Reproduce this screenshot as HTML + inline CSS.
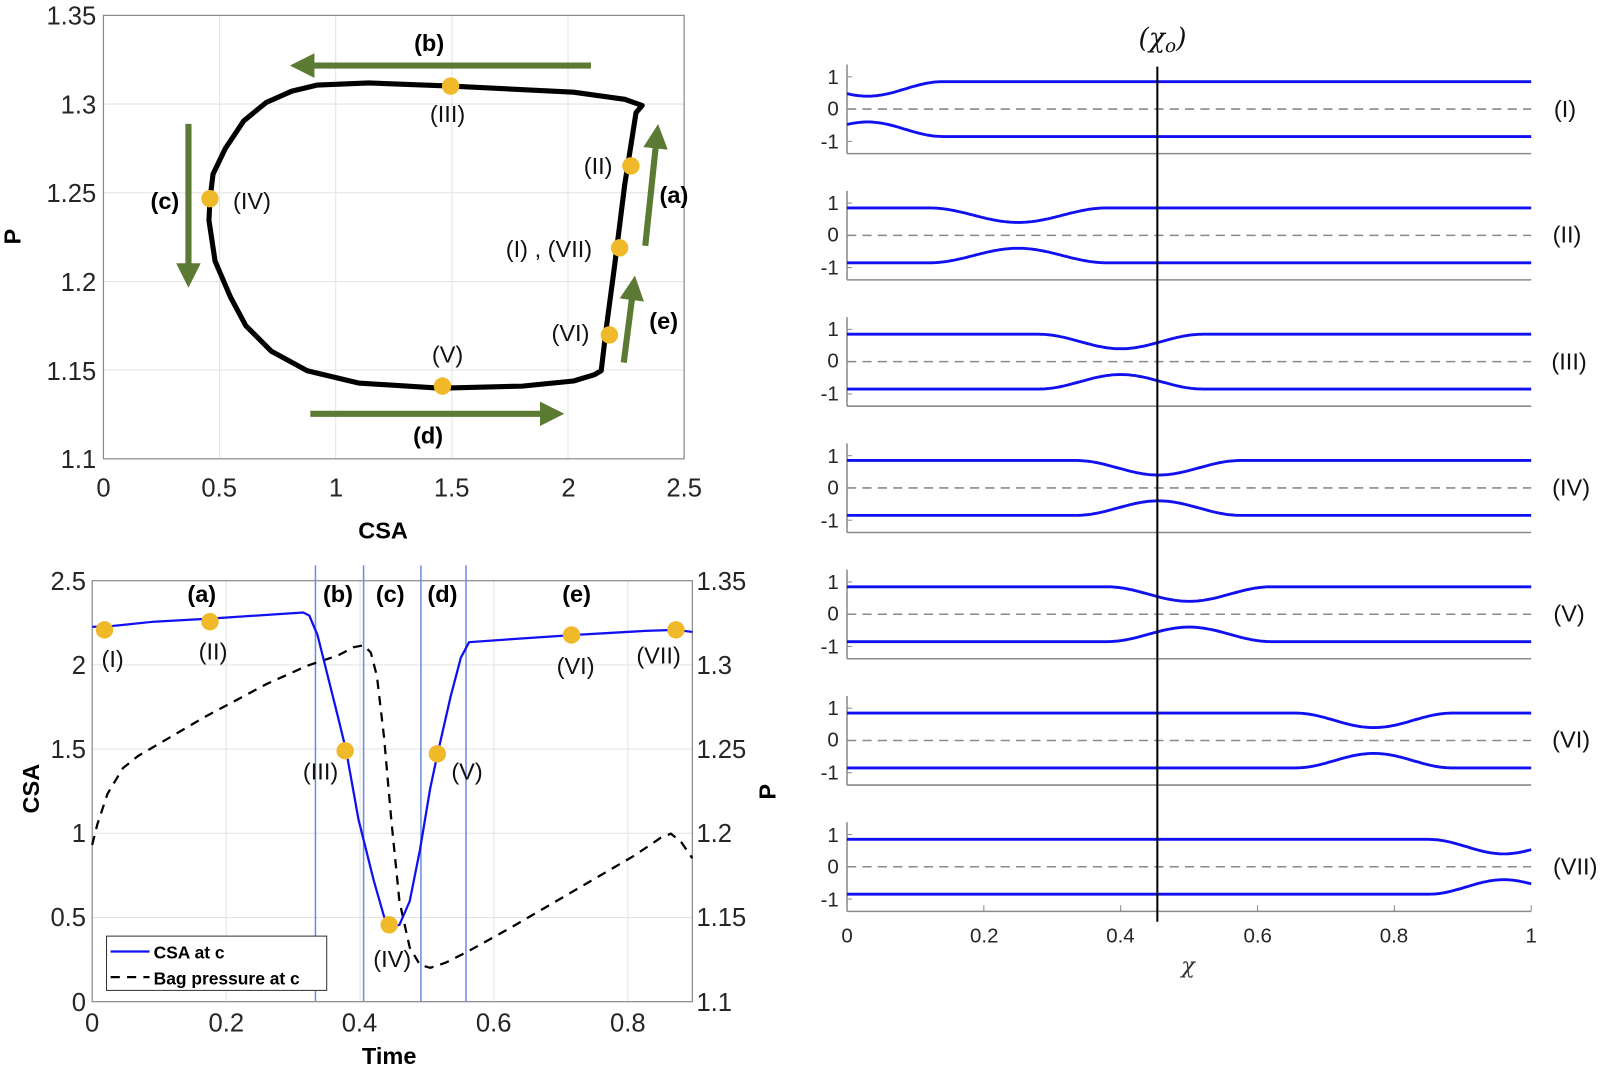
<!DOCTYPE html>
<html><head><meta charset="utf-8"><style>
html,body{margin:0;padding:0;background:#fff;}
svg{display:block;font-family:"Liberation Sans",sans-serif;}
.t{font-size:25px;fill:#262626;}
.s{font-size:20px;fill:#262626;}
.b{font-weight:bold;font-size:23px;fill:#000;}
.l{font-size:23px;fill:#111;}
</style></head><body>
<svg id="svg" width="1606" height="1068" viewBox="0 0 1606 1068" xmlns="http://www.w3.org/2000/svg">
<defs>
<marker id="ah" markerWidth="4" markerHeight="4" refX="1.5" refY="2" orient="auto" markerUnits="strokeWidth">
<path d="M0,0 L4,2 L0,4 z" fill="#5b7b35"/></marker>
</defs>
<g transform="scale(1.0242)">
<g id="tl">
<g stroke="#e3e3e3" stroke-width="1">
<line x1="214.4" y1="15" x2="214.4" y2="448"/><line x1="327.8" y1="15" x2="327.8" y2="448"/>
<line x1="441.2" y1="15" x2="441.2" y2="448"/><line x1="554.6" y1="15" x2="554.6" y2="448"/>
<line x1="101" y1="101.6" x2="668" y2="101.6"/><line x1="101" y1="188.2" x2="668" y2="188.2"/>
<line x1="101" y1="274.8" x2="668" y2="274.8"/><line x1="101" y1="361.4" x2="668" y2="361.4"/>
</g>
<rect x="101" y="15" width="567" height="433" fill="none" stroke="#8a8a8a" stroke-width="1.2"/>
<g class="t" text-anchor="end">
<text x="94" y="24">1.35</text><text x="94" y="111">1.3</text><text x="94" y="197">1.25</text>
<text x="94" y="284">1.2</text><text x="94" y="371">1.15</text><text x="94" y="457">1.1</text>
</g>
<g class="t" text-anchor="middle">
<text x="101" y="485">0</text><text x="214" y="485">0.5</text><text x="328" y="485">1</text>
<text x="441" y="485">1.5</text><text x="555" y="485">2</text><text x="668" y="485">2.5</text>
</g>
<text class="b" x="374" y="526" text-anchor="middle">CSA</text>
<text class="b" transform="translate(20,231) rotate(-90)" text-anchor="middle">P</text>
<path fill="none" stroke="#000" stroke-width="5" stroke-linejoin="round" d="M627,103 L610,97 L560,90 L440,84 L360,81 L310,83 L285,89 L260,100 L238,118 L220,145 L208,170 L205,195 L204,215 L210,255 L225,290 L240,318 L265,343 L300,362 L350,374 L430,379 L510,377 L560,372 L580,366 L587,362 L592,320 L600,260 L610,180 L621,110 Z"/>
<g stroke="#5b7b35" stroke-width="6" marker-end="url(#ah)">
<line x1="577" y1="64" x2="298" y2="64"/>
<line x1="184" y1="121" x2="184" y2="266"/>
<line x1="630" y1="240" x2="641" y2="136"/>
<line x1="609" y1="354" x2="618" y2="284"/>
<line x1="303" y1="404" x2="536" y2="404"/>
</g>
<g fill="#f0b92a">
<circle cx="440" cy="84" r="8.5"/><circle cx="616" cy="162" r="8.5"/><circle cx="605" cy="242" r="8.5"/>
<circle cx="595" cy="327" r="8.5"/><circle cx="432" cy="377" r="8.5"/><circle cx="205" cy="194" r="8.5"/>
</g>
<g class="b" text-anchor="middle">
<text x="419" y="50">(b)</text><text x="161" y="204">(c)</text><text x="658" y="198">(a)</text>
<text x="648" y="321">(e)</text><text x="418" y="433">(d)</text>
</g>
<g class="l" text-anchor="middle">
<text x="437" y="119">(III)</text><text x="584" y="170">(II)</text><text x="536" y="251">(I) , (VII)</text>
<text x="557" y="333">(VI)</text><text x="437" y="354">(V)</text><text x="246" y="204">(IV)</text>
</g>
</g>

<g id="bl">
<g stroke="#e3e3e3" stroke-width="1">
<line x1="220.8" y1="567" x2="220.8" y2="978"/><line x1="351.5" y1="567" x2="351.5" y2="978"/>
<line x1="482.2" y1="567" x2="482.2" y2="978"/><line x1="613" y1="567" x2="613" y2="978"/>
<line x1="90" y1="649.2" x2="676" y2="649.2"/><line x1="90" y1="731.4" x2="676" y2="731.4"/>
<line x1="90" y1="813.6" x2="676" y2="813.6"/><line x1="90" y1="895.8" x2="676" y2="895.8"/>
</g>
<rect x="90" y="567" width="586" height="411" fill="none" stroke="#8a8a8a" stroke-width="1.2"/>
<g stroke="#6b8de0" stroke-width="1.5">
<line x1="308" y1="552" x2="308" y2="978"/><line x1="355" y1="552" x2="355" y2="978"/>
<line x1="411" y1="552" x2="411" y2="978"/><line x1="455" y1="552" x2="455" y2="978"/>
</g>
<g class="t" text-anchor="end">
<text x="84" y="576">2.5</text><text x="84" y="658">2</text><text x="84" y="740">1.5</text>
<text x="84" y="822">1</text><text x="84" y="904">0.5</text><text x="84" y="987">0</text>
</g>
<g class="t" text-anchor="start">
<text x="680" y="576">1.35</text><text x="680" y="658">1.3</text><text x="680" y="740">1.25</text>
<text x="680" y="822">1.2</text><text x="680" y="904">1.15</text><text x="680" y="987">1.1</text>
</g>
<g class="t" text-anchor="middle">
<text x="90" y="1007">0</text><text x="221" y="1007">0.2</text><text x="351" y="1007">0.4</text>
<text x="482" y="1007">0.6</text><text x="613" y="1007">0.8</text>
</g>
<text class="b" x="380" y="1039" text-anchor="middle">Time</text>
<text class="b" transform="translate(38,770) rotate(-90)" text-anchor="middle">CSA</text>
<text class="b" transform="translate(757,773) rotate(-90)" text-anchor="middle">P</text>
<path fill="none" stroke="#000" stroke-width="2.2" stroke-dasharray="9,7" d="M90,825 L95,805 L105,775 L120,750 L135,738 L200,700 L260,668 L300,650 L330,640 L345,632 L355,630 L362,637 L368,660 L375,720 L382,800 L390,880 L400,925 L410,942 L420,945 L435,940 L455,930 L500,905 L560,870 L620,835 L645,818 L655,814 L665,822 L676,838"/>
<path fill="none" stroke="#1010f0" stroke-width="2.2" d="M90,612 L102,612 L150,607 L205,604 L296,598 L302,601 L310,620 L320,660 L330,700 L338,733 L350,800 L365,860 L375,895 L382,905 L390,903 L400,880 L410,830 L420,770 L427,737 L440,680 L450,642 L458,627 L500,624 L560,620 L630,616 L660,615 L676,617"/>
<g fill="#f0b92a">
<circle cx="102" cy="615" r="8.5"/><circle cx="205" cy="607" r="8.5"/><circle cx="337" cy="733" r="8.5"/>
<circle cx="380" cy="903" r="8.5"/><circle cx="427" cy="736" r="8.5"/><circle cx="558" cy="620" r="8.5"/><circle cx="660" cy="615" r="8.5"/>
</g>
<g class="b" text-anchor="middle">
<text x="197" y="588">(a)</text><text x="330" y="588">(b)</text><text x="381" y="588">(c)</text>
<text x="432" y="588">(d)</text><text x="563" y="588">(e)</text>
</g>
<g class="l" text-anchor="middle">
<text x="110" y="651">(I)</text><text x="208" y="644">(II)</text><text x="313" y="761">(III)</text>
<text x="383" y="944">(IV)</text><text x="456" y="761">(V)</text><text x="562" y="658">(VI)</text><text x="643" y="648">(VII)</text>
</g>
<rect x="104" y="914" width="215" height="53" fill="#fff" stroke="#333" stroke-width="1"/>
<line x1="108" y1="929" x2="146" y2="929" stroke="#1010f0" stroke-width="2.2"/>
<line x1="108" y1="954" x2="146" y2="954" stroke="#000" stroke-width="2.2" stroke-dasharray="9,7"/>
<text x="150" y="936" style="font-weight:bold;font-size:17px">CSA at c</text>
<text x="150" y="961" style="font-weight:bold;font-size:17px">Bag pressure at c</text>
</g>

<g id="rp"></g>
<text x="1135" y="46" text-anchor="middle" style="font-family:'DejaVu Serif',serif;font-size:26px;font-style:italic;fill:#111">(χ<tspan font-size="18" dy="5">o</tspan><tspan dy="-5">)</tspan></text>
<text x="1160" y="950" text-anchor="middle" style="font-family:'DejaVu Serif',serif;font-size:22px;font-style:italic;fill:#333">χ</text>
<g class="s" text-anchor="middle">
<text x="827" y="920">0</text><text x="961" y="920">0.2</text><text x="1094" y="920">0.4</text>
<text x="1228" y="920">0.6</text><text x="1361" y="920">0.8</text><text x="1495" y="920">1</text>
</g>
<g class="l" text-anchor="middle">
<text x="1528" y="114">(I)</text><text x="1530" y="237">(II)</text><text x="1532" y="361">(III)</text>
<text x="1534" y="484">(IV)</text><text x="1532" y="607">(V)</text><text x="1534" y="730">(VI)</text><text x="1538" y="854">(VII)</text>
</g>
<g class="s" text-anchor="end">
<text x="819" y="82">1</text><text x="819" y="113">0</text><text x="819" y="145">-1</text>
<text x="819" y="205">1</text><text x="819" y="236">0</text><text x="819" y="268">-1</text>
<text x="819" y="328">1</text><text x="819" y="359">0</text><text x="819" y="391">-1</text>
<text x="819" y="452">1</text><text x="819" y="483">0</text><text x="819" y="515">-1</text>
<text x="819" y="575">1</text><text x="819" y="606">0</text><text x="819" y="638">-1</text>
<text x="819" y="698">1</text><text x="819" y="729">0</text><text x="819" y="761">-1</text>
<text x="819" y="822">1</text><text x="819" y="853">0</text><text x="819" y="885">-1</text>
</g>
</g>
</svg>
<script>
(function(){
var g=document.getElementById('rp'),NS='http://www.w3.org/2000/svg';
function el(n,a){var e=document.createElementNS(NS,n);for(var k in a)e.setAttribute(k,a[k]);g.appendChild(e);return e;}
var P=[[0.03,0.11],[0.25,0.13],[0.40,0.12],[0.455,0.12],[0.50,0.12],[0.77,0.115],[0.96,0.11]];
var X0=827,X1=1495;
for(var k=0;k<7;k++){
 var y1=75+123.3*k,y0=y1+31.5,bot=y1+75,top=y1-12;
 el('line',{x1:X0,y1:y0,x2:X1,y2:y0,stroke:'#8a8a8a','stroke-width':1.5,'stroke-dasharray':'9,6'});
 el('line',{x1:X0,y1:top,x2:X0,y2:bot,stroke:'#8a8a8a','stroke-width':1.5});
 el('line',{x1:X0,y1:bot,x2:X1,y2:bot,stroke:'#8a8a8a','stroke-width':1.5});
 [0,31.5,63].forEach(function(d){el('line',{x1:X0,y1:y1+d,x2:X0+5,y2:y1+d,stroke:'#8a8a8a','stroke-width':1});});
 if(k==6){[0.2,0.4,0.6,0.8,1].forEach(function(t){var x=X0+t*668;el('line',{x1:x,y1:bot,x2:x,y2:bot-6,stroke:'#8a8a8a','stroke-width':1});});}
 var c=P[k][0],w=P[k][1],du='',dl='';
 for(var i=0;i<=300;i++){var t=i/300,v=0.85;
  if(Math.abs(t-c)<w)v=0.85-0.45*(1+Math.cos(Math.PI*(t-c)/w))/2;
  var x=X0+t*668;du+=(i?'L':'M')+x.toFixed(1)+','+(y0-v*31.5).toFixed(1);dl+=(i?'L':'M')+x.toFixed(1)+','+(y0+v*31.5).toFixed(1);}
 el('path',{d:du,fill:'none',stroke:'#1010f0','stroke-width':2.8});
 el('path',{d:dl,fill:'none',stroke:'#1010f0','stroke-width':2.8});
}
el('line',{x1:1130,y1:65,x2:1130,y2:900,stroke:'#000','stroke-width':2});
})();
</script>
</body></html>
